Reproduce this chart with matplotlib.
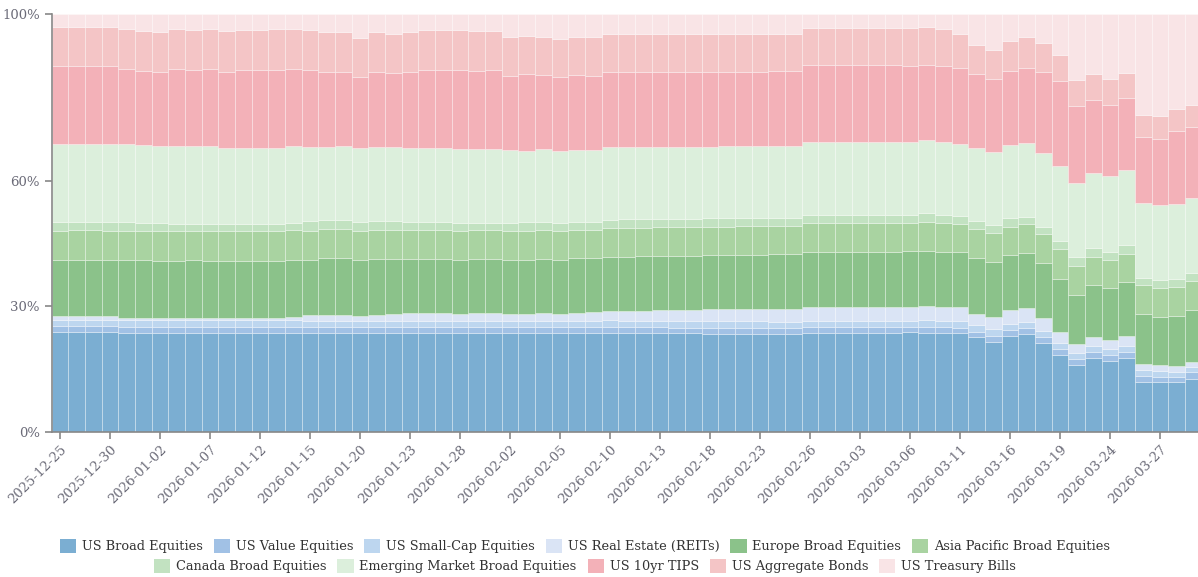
import numpy as np
import pandas as pd
import matplotlib
matplotlib.use("Agg")
import matplotlib.pyplot as plt
from matplotlib.patches import Patch

dates = pd.bdate_range("2025-12-25", "2026-03-31")
labels = [d.strftime("%Y-%m-%d") for d in dates]

series_names = ["US Broad Equities", "US Value Equities", "US Small-Cap Equities",
                "US Real Estate (REITs)", "Europe Broad Equities", "Asia Pacific Broad Equities",
                "Canada Broad Equities", "Emerging Market Broad Equities", "US 10yr TIPS",
                "US Aggregate Bonds", "US Treasury Bills"]

us_broad = [24.0, 24.0, 24.0, 24.0, 23.7, 23.7, 23.7, 23.7, 23.7, 23.7, 23.7, 23.7, 23.7, 23.7, 23.7,
            23.7, 23.7, 23.7, 23.7, 23.7, 23.7, 23.7, 23.7, 23.7, 23.7, 23.7, 23.7, 23.7, 23.7, 23.7,
            23.6, 23.6, 23.6,
            23.6, 23.6, 23.6, 23.6, 23.6, 23.6, 23.6, 23.6, 23.6, 23.6, 23.6, 23.6,
            23.7, 23.7, 23.7, 23.7, 23.7, 23.7,
            23.8, 23.7, 23.7, 23.6, 22.6, 21.6, 22.9, 23.3, 21.3, 18.4, 16.0, 17.7, 16.9, 17.7,
            11.8, 11.8, 11.8, 12.6]
us_value = [1.4, 1.4, 1.4, 1.4, 1.4, 1.4, 1.4, 1.4, 1.4, 1.4, 1.4, 1.4, 1.4, 1.4, 1.4,
            1.4, 1.4, 1.4, 1.4, 1.4, 1.4, 1.4, 1.4, 1.4, 1.4, 1.4, 1.4, 1.4, 1.4, 1.4,
            1.4, 1.4, 1.4,
            1.4, 1.4, 1.4, 1.4, 1.4, 1.4, 1.4, 1.4, 1.4, 1.4, 1.4, 1.4,
            1.4, 1.4, 1.4, 1.4, 1.4, 1.4,
            1.3, 1.4, 1.3, 1.2, 1.3, 1.4, 1.4, 1.6, 1.4, 1.4, 1.4, 1.4, 1.4, 1.4,
            1.5, 1.3, 1.3, 1.6]
us_small = [1.4, 1.4, 1.4, 1.4, 1.6, 1.6, 1.6, 1.6, 1.6, 1.6, 1.6, 1.6, 1.6, 1.6, 1.6,
            1.4, 1.4, 1.4, 1.4, 1.4, 1.4, 1.4, 1.4, 1.4, 1.4, 1.4, 1.4, 1.4, 1.4, 1.4,
            1.6, 1.6, 1.6,
            1.6, 1.6, 1.6, 1.6, 1.6, 1.6, 1.6, 1.6, 1.6, 1.6, 1.6, 1.6,
            1.5, 1.5, 1.5, 1.5, 1.5, 1.5,
            1.4, 1.6, 1.5, 1.7, 1.6, 1.6, 1.6, 1.4, 1.4, 1.5, 1.4, 1.4, 1.4, 1.4,
            1.4, 1.4, 1.2, 1.4]
us_reit = [0.8, 0.8, 0.8, 0.8, 0.55, 0.5, 0.5, 0.55, 0.55, 0.55, 0.55, 0.55, 0.55, 0.55, 0.8,
           1.4, 1.5, 1.5, 1.2, 1.4, 1.7, 1.8, 1.8, 1.8, 1.6, 1.9, 1.9, 1.8, 1.6, 1.8,
           1.7, 1.9, 2.0,
           2.2, 2.3, 2.4, 2.5, 2.6, 2.7, 2.8, 2.9, 3.0, 3.0, 3.1, 3.1,
           3.3, 3.3, 3.3, 3.3, 3.3, 3.3,
           3.4, 3.4, 3.4, 3.3, 2.8, 3.0, 3.2, 3.2, 3.0, 2.6, 2.2, 2.2, 2.3, 2.3,
           1.4, 1.4, 1.4, 1.2]
europe = [13.6, 13.6, 13.6, 13.6, 13.8, 13.8, 13.7, 13.7, 13.8, 13.7, 13.7, 13.7, 13.7, 13.7, 13.7,
          13.3, 13.5, 13.6, 13.3, 13.4, 13.1, 13.0, 13.0, 13.0, 12.9, 12.9, 12.9, 12.8, 12.9, 13.0,
          12.9, 13.0, 12.9,
          13.0, 13.0, 13.0, 13.0, 13.0, 13.0, 13.0, 13.0, 13.1, 13.1, 13.1, 13.1,
          13.2, 13.2, 13.2, 13.2, 13.2, 13.2,
          13.3, 13.1, 13.2, 13.2, 13.3, 13.2, 13.2, 13.3, 13.2, 12.8, 11.8, 12.4, 12.3, 13.0,
          12.1, 11.6, 12.1, 12.4]
asia_pac = [7.0, 7.2, 7.2, 7.0, 6.9, 6.9, 7.1, 7.1, 6.9, 7.1, 7.1, 7.1, 7.1, 7.1, 7.1,
            7.0, 6.9, 6.9, 7.0, 6.9, 6.9, 6.9, 6.9, 6.9, 7.0, 6.9, 6.9, 7.0, 7.0, 6.9,
            7.0, 6.8, 6.8,
            6.9, 6.9, 6.9, 6.9, 6.9, 6.9, 6.9, 6.9, 6.9, 6.9, 6.9, 6.9,
            6.9, 6.9, 6.9, 6.9, 6.9, 6.9,
            6.8, 6.9, 6.8, 6.8, 6.9, 6.8, 6.8, 6.9, 6.9, 7.0, 7.0, 6.8, 6.9, 6.8,
            6.9, 6.9, 6.8, 7.0]
canada = [2.0, 1.8, 1.8, 2.0, 2.1, 2.1, 1.8, 1.8, 1.8, 1.8, 1.8, 1.8, 1.8, 1.8, 1.8,
          2.2, 2.1, 2.1, 2.1, 2.2, 2.2, 2.0, 1.9, 1.9, 1.9, 1.8, 1.8, 2.0, 2.1, 1.9,
          1.9, 1.9, 1.9,
          2.0, 2.0, 2.0, 2.0, 2.0, 2.0, 2.0, 2.0, 2.0, 2.0, 2.0, 2.0,
          2.0, 2.0, 2.0, 2.0, 2.0, 2.0,
          2.0, 2.1, 2.0, 1.9, 1.9, 2.0, 2.0, 1.7, 1.8, 1.9, 2.0, 2.0, 1.9, 2.0,
          1.7, 1.8, 2.0, 1.8]
em = [18.8, 18.8, 18.8, 18.8, 18.7, 18.5, 18.6, 18.6, 18.6, 18.6, 18.1, 18.1, 18.1, 18.1, 18.4,
      17.8, 17.6, 17.7, 17.8, 17.7, 17.7, 17.7, 17.8, 17.7, 17.7, 17.6, 17.6, 17.4, 17.2, 17.4,
      17.2, 17.3, 17.3,
      17.3, 17.3, 17.3, 17.3, 17.3, 17.3, 17.3, 17.3, 17.3, 17.3, 17.3, 17.3,
      17.5, 17.5, 17.5, 17.5, 17.5, 17.5,
      17.4, 17.5, 17.4, 17.3, 17.5, 17.5, 17.6, 17.6, 17.6, 18.0, 17.9, 18.0, 18.0, 17.9,
      17.9, 18.0, 18.0, 18.1]
tips = [18.7, 18.7, 18.7, 18.7, 18.1, 17.8, 17.7, 18.4, 18.2, 18.4, 18.2, 18.7, 18.7, 18.7, 18.6,
        18.4, 17.9, 17.8, 17.0, 18.0, 17.7, 18.1, 18.6, 18.8, 18.9, 18.8, 18.9, 17.7, 18.3, 17.7,
        17.7, 17.8, 17.7,
        18.0, 18.0, 18.0, 18.0, 18.0, 18.0, 18.0, 18.0, 18.0, 18.0, 18.0, 18.0,
        18.4, 18.4, 18.4, 18.4, 18.4, 18.4,
        18.2, 18.0, 18.4, 18.1, 17.8, 17.5, 17.8, 18.0, 19.3, 20.4, 18.4, 17.6, 17.0, 17.2,
        15.9, 15.8, 17.4, 17.0]
agg_bonds = [9.3, 9.3, 9.3, 9.3, 9.4, 9.5, 9.5, 9.5, 9.5, 9.5, 9.8, 9.5, 9.5, 9.7, 9.5,
             9.6, 9.5, 9.5, 9.2, 9.5, 9.3, 9.5, 9.5, 9.5, 9.6, 9.6, 9.4, 9.3, 9.1, 9.1,
             9.0, 9.1, 9.2,
             9.0, 9.0, 9.0, 9.0, 9.0, 9.0, 9.0, 9.0, 9.0, 9.0, 9.0, 9.0,
             8.9, 8.9, 8.9, 8.9, 8.9, 8.9,
             9.0, 9.0, 8.8, 8.3, 6.9, 6.9, 7.0, 7.4, 7.0, 6.2, 6.2, 6.1, 6.2, 6.0,
             5.2, 5.4, 5.3, 5.1]
t_bills = [3.0, 3.0, 3.0, 3.0, 3.6, 4.0, 4.2, 3.6, 3.8, 3.6, 4.0, 3.8, 3.8, 3.6, 3.6,
           3.8, 4.3, 4.3, 5.7, 4.3, 4.8, 4.3, 3.8, 3.8, 3.8, 3.9, 4.0, 5.5, 5.2, 5.5,
           6.0, 5.5, 5.5,
           4.8, 4.8, 4.8, 4.8, 4.8, 4.8, 4.8, 4.8, 4.8, 4.8, 4.8, 4.8,
           3.2, 3.2, 3.2, 3.2, 3.2, 3.2,
           3.4, 3.1, 3.5, 4.6, 7.4, 8.6, 6.5, 5.4, 6.9, 9.8, 15.7, 14.4, 15.6, 14.1,
           24.1, 24.4, 22.7, 21.8]

colors = ["#7baed2", "#a1c1e5", "#bdd6ef", "#dae4f5", "#8bc28a", "#a9d3a1",
          "#c2e2c1", "#dcefdc", "#f3b1b8", "#f4c5c6", "#f9e4e6"]

data = np.array([us_broad, us_value, us_small, us_reit, europe, asia_pac,
                 canada, em, tips, agg_bonds, t_bills], dtype=float)
data = data / data.sum(axis=0)

plt.rcParams["font.family"] = ["DejaVu Serif"]

fig = plt.figure(figsize=(11.98, 5.77), dpi=100)
ax = fig.add_axes([51.7 / 1198, (577 - 431.7) / 577, 1 - 51.7 / 1198, (431.7 - 14.3) / 577])

x = np.arange(len(labels))
bottom = np.zeros(len(labels))
for name, row, col in zip(series_names, data, colors):
    ax.bar(x, row, width=1.0, bottom=bottom, color=col, edgecolor=(1, 1, 1, 0.3),
           linewidth=0.7, label=name)
    bottom += row

ax.set_xlim(-0.5, 68.28)
ax.set_ylim(0, 1)
ax.set_yticks([0, 0.3, 0.6, 1.0])
ax.set_yticklabels(["0%", "30%", "60%", "100%"])
ax.set_xticks(x[::3])
ax.set_xticklabels(labels[::3], rotation=45, ha="right", va="top", rotation_mode="anchor")

for s in ["top", "right"]:
    ax.spines[s].set_visible(False)
for s in ["left", "bottom"]:
    ax.spines[s].set_color("#888888")
    ax.spines[s].set_linewidth(1.2)
ax.tick_params(axis="both", colors="#888888", length=5, width=1.2, labelsize=9.5,
               labelcolor="#6b6b78")
ax.tick_params(axis="x", pad=3)

handles = [Patch(facecolor=c, edgecolor="none") for c in colors]
leg_kw = dict(frameon=False, fontsize=9.3, handlelength=1.25, handleheight=1.25,
              handletextpad=0.45, columnspacing=0.85, labelcolor="#333333",
              borderaxespad=0, borderpad=0)
l1 = fig.legend(handles[:6], series_names[:6], ncol=6, loc="center",
                bbox_to_anchor=(585 / 1198, 1 - 546 / 577), **leg_kw)
l2 = fig.legend(handles[6:], series_names[6:], ncol=5, loc="center",
                bbox_to_anchor=(585 / 1198, 1 - 566 / 577), **leg_kw)

fig.savefig("out.png", dpi=100)
